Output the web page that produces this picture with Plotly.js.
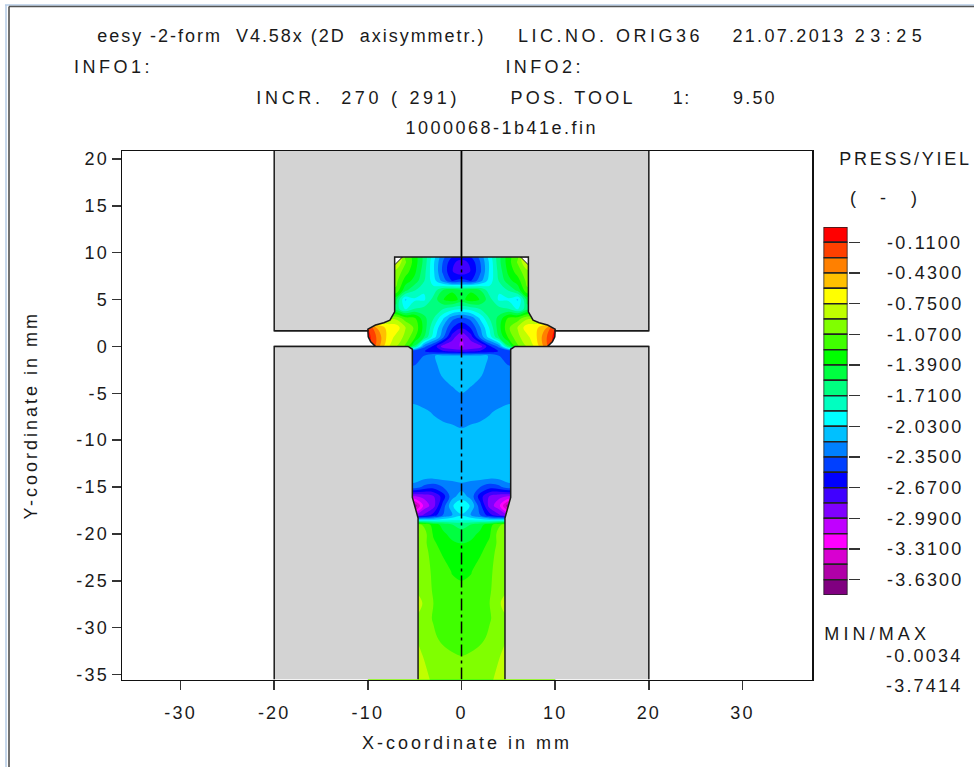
<!DOCTYPE html>
<html>
<head>
<meta charset="utf-8">
<script src="https://cdn.plot.ly/plotly-3.0.1.min.js"></script>
<style>
html,body{margin:0;padding:0;background:#fff}
#g{width:974px;height:767px}
text{letter-spacing:2.2px}
.xtitle,.ytitle{letter-spacing:3px}
</style>
</head>
<body>
<div id="g"></div>
<script>
// Pressure/yield field, right half of the axisymmetric section
const gridX = [0,1,2,3,4,5,6,7,8,9,10];
const gridY = [9.6,9,8,7,6,5,4,3,2,1,0,-0.5,-1,-2,-3,-4,-5,-6,-7,-9,-12,-14,-15,-16,-17,-18,-18.5,-19,-20,-21,-22,-24,-26,-27.4,-29,-31,-33,-35.6];
const fieldRows = [
 [-2.55,-2.5,-2.3,-1.95,-1.6,-1.3,-1.1,-0.55],
 [-2.75,-2.62,-2.35,-2.0,-1.6,-1.3,-1.05,-0.72],
 [-2.78,-2.66,-2.38,-2.0,-1.65,-1.35,-1.15,-0.95],
 [-2.45,-2.52,-2.25,-1.95,-1.7,-1.45,-1.3,-1.02],
 [-1.5,-1.42,-1.55,-1.8,-1.85,-1.7,-1.5,-1.1],
 [-1.45,-1.3,-1.4,-1.65,-1.9,-1.9,-2.05,-1.5],
 [-1.85,-1.8,-1.7,-1.6,-1.65,-1.7,-1.9,-1.6],
 [-2.4,-2.3,-2.0,-1.7,-1.5,-1.2,-1.15,-0.95],
 [-2.65,-2.5,-2.2,-1.85,-1.45,-1.1,-0.9,-0.65,-0.62,-0.45,-0.1],
 [-3.0,-2.75,-2.3,-1.95,-1.55,-1.2,-0.95,-0.8,-0.6,-0.3,-0.03],
 [-3.0,-2.95,-2.9,-2.55,-2.3,-1.6,-1.1,-0.9,-0.7,-0.35,-0.03],
 [-2.75,-2.72,-2.65,-2.6,-2.5,-2.5],
 [-2.15,-2.15,-2.15,-2.2,-2.35,-2.45],
 [-2.15,-2.15,-2.15,-2.22,-2.3,-2.35],
 [-2.13,-2.14,-2.17,-2.26,-2.3,-2.3],
 [-2.15,-2.17,-2.23,-2.27,-2.28,-2.28],
 [-2.19,-2.24,-2.27,-2.27,-2.27,-2.26],
 [-2.27,-2.26,-2.25,-2.24,-2.22,-2.2],
 [-2.25,-2.25,-2.23,-2.2,-2.17,-2.14],
 [-2.18,-2.16,-2.15,-2.14,-2.13,-2.13],
 [-2.11,-2.11,-2.11,-2.11,-2.11,-2.11],
 [-2.12,-2.13,-2.14,-2.16,-2.15,-2.12],
 [-2.25,-2.3,-2.35,-2.45,-2.4,-2.25],
 [-2.1,-2.25,-2.6,-2.85,-2.95,-3.0],
 [-1.9,-2.05,-2.45,-2.9,-3.1,-3.6],
 [-2.05,-2.2,-2.35,-2.6,-2.8,-3.0],
 [-1.9,-1.9,-1.95,-2.0,-2.0,-2.0],
 [-1.6,-1.55,-1.45,-1.3,-1.1,-1.0],
 [-1.5,-1.45,-1.35,-1.25,-1.0,-0.85],
 [-1.39,-1.36,-1.3,-1.2,-1.02,-0.88],
 [-1.33,-1.31,-1.25,-1.15,-1.0,-0.85],
 [-1.26,-1.24,-1.15,-1.1,-1.0,-0.9],
 [-1.2,-1.18,-1.14,-1.08,-1.02,-0.95],
 [-1.17,-1.15,-1.13,-1.07,-0.98,-0.6],
 [-1.16,-1.15,-1.13,-1.08,-1.02,-0.95],
 [-1.18,-1.15,-1.1,-1.05,-1.0,-0.9],
 [-1.07,-1.05,-1.03,-1.0,-0.92,-0.85],
 [-0.98,-0.97,-0.95,-0.94,-0.86,-0.78]
];

// Legend bands, top to bottom
const bandColors = ['#ff0000','#ff4000','#ff8000','#ffc000','#ffff00','#c0ff00','#80ff00','#40ff00','#00ff00','#00ff40','#00ff80','#00ffc0','#00ffff','#00c0ff','#0080ff','#0040ff','#0000ff','#4000ff','#8000ff','#c000ff','#ff00ff','#d800d0','#b000a8','#800080'];
const levelTop = 0.05, levelStep = 0.16;
const legendTicks = [-0.11,-0.43,-0.75,-1.07,-1.39,-1.71,-2.03,-2.35,-2.67,-2.99,-3.31,-3.63];
const legendLabels = ['-0.1100','-0.4300','-0.7500','-1.0700','-1.3900','-1.7100','-2.0300','-2.3500','-2.6700','-2.9900','-3.3100','-3.6300'];

// Tool and workpiece outlines, left half (mm)
const upperToolX = [-20,-20,-10,-10,-9.18,-8.29,-7.64,-7.3,-7.14,-7.14,0,0];
const upperToolY = [20.85,1.67,1.67,1.85,2.28,2.53,2.8,3.35,3.7,9.55,9.55,20.85];
const lowerToolX = [-20,-20,-5.7,-5.25,-5.25,-4.64,-4.64];
const lowerToolY = [-35.53,0,0,-0.3,-16.1,-18.3,-35.53];
const gapX = [-20,-9.18,-9.7,-9.96,-10,-20];
const gapY = [0,0,0.5,1.03,1.67,1.67];
const cornerX = [-7.14,-6.3,-7.14];
const cornerY = [9.55,9.55,8.7];
const axisDieY = [9.55,20.85];
const axisPartY = [-35.53,9.55];

const xTicks = [-30,-20,-10,0,10,20,30];
const yTicks = [-35,-30,-25,-20,-15,-10,-5,0,5,10,15,20];

const W = 974, H = 767;
const px = v => v / W, py = v => 1 - v / H;
const mirror = a => a.map(v => -v);
const C = '#1a1a1a';
const FONT = {family:'Liberation Sans, Arial, sans-serif', size:18, color:C};

// Mirror the half field about the axis of symmetry
const fullX = mirror(gridX.slice(1)).reverse().concat(gridX);
const pad = r => r.concat(Array(gridX.length - r.length).fill(r[r.length-1]));
const fullZ = fieldRows.map(pad).map(r => r.slice(1).reverse().concat(r)).reverse();
const fullY = gridY.slice().reverse();

// Stepped colour scale, lowest band first
const n = bandColors.length;
const ramp = bandColors.slice().reverse();
const scale = [];
ramp.forEach((c,i) => { scale.push([i/n,c]); scale.push([(i+1)/n,c]); });
const levelBottom = levelTop - n*levelStep;

const poly = (x,y,fill,width) => ({type:'scatter',mode:'lines',x,y,fill:'toself',fillcolor:fill,
  line:{color:C,width:width},hoverinfo:'skip',showlegend:false,xaxis:'x',yaxis:'y'});

const traces = [
  {type:'contour',x:fullX,y:fullY,z:fullZ,autocontour:false,showscale:false,hoverinfo:'skip',
   zmin:levelBottom,zmax:levelTop,colorscale:scale,
   contours:{start:levelBottom+levelStep,end:levelTop-levelStep,size:levelStep,coloring:'fill',showlines:false},
   line:{width:0,smoothing:1}},
  poly(gapX,gapY,'#ffffff',1.5),
  poly(mirror(gapX),gapY,'#ffffff',1.5),
  poly(cornerX,cornerY,'#ffffff',1),
  poly(mirror(cornerX),cornerY,'#ffffff',1),
  poly(upperToolX,upperToolY,'#d3d3d3',1.5),
  poly(mirror(upperToolX),upperToolY,'#d3d3d3',1.5),
  poly(lowerToolX,lowerToolY,'#d3d3d3',1.5),
  poly(mirror(lowerToolX),lowerToolY,'#d3d3d3',1.5),
  {type:'scatter',mode:'lines',x:[0,0],y:axisDieY,line:{color:'#000',width:1.3},hoverinfo:'skip',showlegend:false},
  {type:'scatter',mode:'lines',x:[0,0],y:axisPartY,line:{color:'#000',width:1.5,dash:'12px,4px,3px,4px'},hoverinfo:'skip',showlegend:false},
  {type:'bar',xaxis:'x2',yaxis:'y2',x:bandColors.map(()=>0),
   y:bandColors.map(()=>levelStep),
   base:bandColors.map((c,i)=>levelTop-(i+1)*levelStep),
   width:1,marker:{color:bandColors,line:{color:'#222',width:1.5}},hoverinfo:'skip',showlegend:false}
];

const note = (text,x,y,spacing) => ({text,xref:'paper',yref:'paper',x:px(x),y:py(y+0.5),
  xanchor:'center',yanchor:'middle',showarrow:false,font:FONT,spacing});

const annotations = [
  note('eesy -2-form  V4.58x (2D  axisymmetr.)',291.5,35,1.98),
  note('LIC.NO. ORIG36',610,35,3.5),
  note('21.07.2013',788.5,35,2.3),
  note('23:25',891,35,5.5),
  note('INFO1:',113.5,67,3.5),
  note('INFO2:',544.5,67,3.4),
  note('INCR.  270 ( 291)',357.5,97,3.7),
  note('POS. TOOL',573,97,3.2),
  note('1:',681,97,1.5),
  note('9.50',754.5,97,2.2),
  note('1000068-1b41e.fin',501.5,128,2.5),
  note('PRESS/YIEL',905.5,159,2.75),
  note('(',853,197,0),
  note('-',883,197,0),
  note(')',914,197,0),
  note('MIN/MAX',876.5,633,4.1),
  note('-0.0034',923.5,655,2.2),
  note('-3.7414',923.5,685,2.2)
];
// Per-text tracking
const css = annotations.map((a,i)=>`.annotation[data-index="${i}"] text{letter-spacing:${a.spacing}px}`).join('\n');
document.head.appendChild(Object.assign(document.createElement('style'),{textContent:css}));
annotations.forEach(a=>delete a.spacing);

const axisCommon = {showgrid:false,zeroline:false,showline:true,mirror:true,linecolor:'#111',linewidth:1.5,
  ticks:'outside',ticklen:9,tickwidth:1.5,tickcolor:'#333',tickfont:FONT,automargin:false,fixedrange:true};

const layout = {
  width:W,height:H,margin:{l:0,r:0,t:0,b:0,pad:0},paper_bgcolor:'#fff',plot_bgcolor:'#fff',
  showlegend:false,barmode:'overlay',
  xaxis:Object.assign({},axisCommon,{domain:[px(122),px(812)],range:[-36.25,37.42],tickmode:'array',tickvals:xTicks,ticktext:xTicks.map(String),
    title:{text:'X-coordinate in mm',font:FONT,standoff:15},ticklabelstandoff:7}),
  yaxis:Object.assign({},axisCommon,{domain:[py(679.5),py(151)],range:[-35.53,20.85],tickmode:'array',tickvals:yTicks,ticktext:yTicks.map(String),
    title:{text:'Y-coordinate in mm',font:FONT,standoff:34},ticklabelstandoff:-1}),
  xaxis2:{domain:[px(823.5),px(847.5)],range:[-0.5,0.5],anchor:'y2',visible:false,fixedrange:true},
  yaxis2:{domain:[py(595),py(227)],range:[levelBottom,levelTop],anchor:'x2',side:'right',showgrid:false,zeroline:false,showline:false,
    tickmode:'array',tickvals:legendTicks,ticktext:legendLabels,ticks:'outside',ticklen:11,tickwidth:1.5,tickcolor:'#333',
    tickfont:FONT,ticklabelstandoff:24,automargin:false,fixedrange:true},
  annotations,
  shapes:[
    {type:'line',xref:'paper',yref:'paper',x0:px(5),x1:px(974),y0:py(5),y1:py(5),line:{color:'#b4cbe6',width:1.5}},
    {type:'line',xref:'paper',yref:'paper',x0:px(6),x1:px(6),y0:py(5),y1:py(767),line:{color:'#b4cbe6',width:1.5}},
    {type:'line',xref:'paper',yref:'paper',x0:px(9),x1:px(974),y0:py(6.5),y1:py(6.5),line:{color:'#555',width:1.5}},
    {type:'line',xref:'paper',yref:'paper',x0:px(9),x1:px(9),y0:py(6.5),y1:py(767),line:{color:'#444',width:1.5}}
  ]
};

Plotly.newPlot('g',traces,layout,{displayModeBar:false,staticPlot:true});
</script>
</body>
</html>
